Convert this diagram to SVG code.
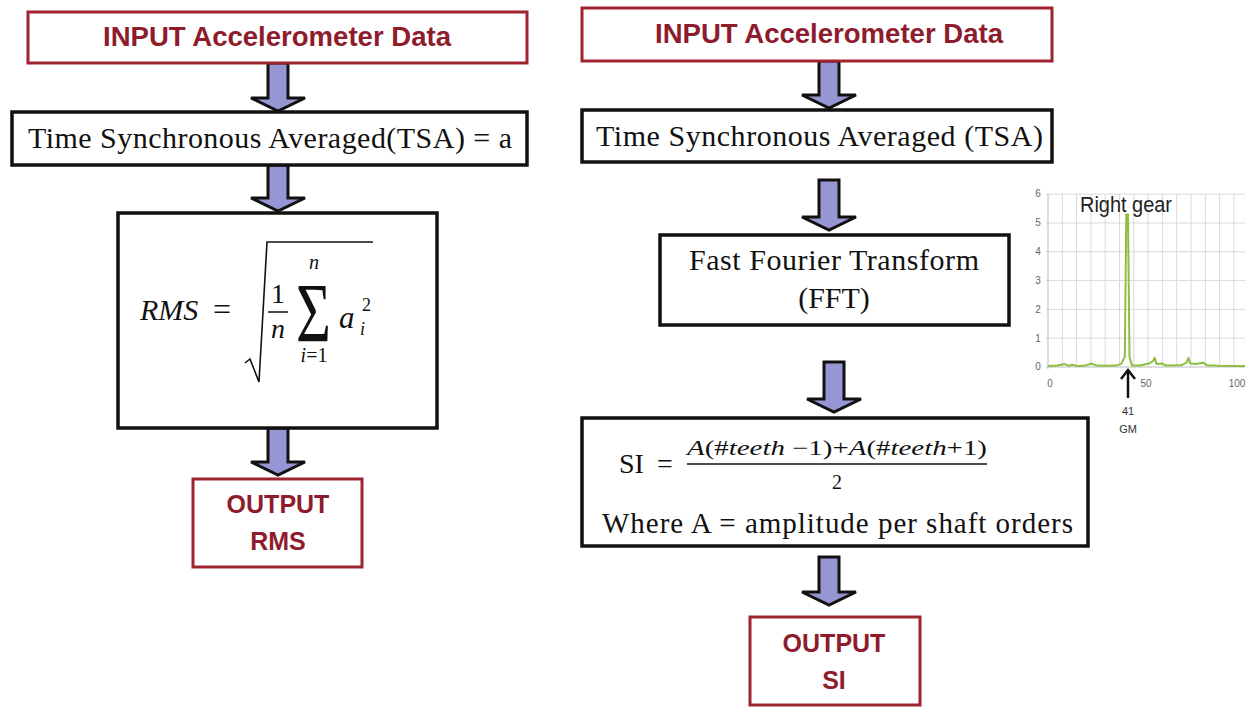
<svg xmlns="http://www.w3.org/2000/svg" width="1248" height="708" viewBox="0 0 1248 708">
<style>
.rbox{fill:#fff;stroke:#a0232f;stroke-width:3}
.bbox{fill:#fff;stroke:#111;stroke-width:3.5}
.rt{font-family:"Liberation Sans",Arial,sans-serif;font-weight:bold;fill:#8e1c2c;text-anchor:middle}
.st{font-family:"Liberation Serif","Times New Roman",serif;fill:#111}
.it{font-style:italic}
.arr{fill:#9696d4;stroke:#111;stroke-width:3;stroke-linejoin:miter}
.grid{stroke:#d9d9d9;stroke-width:1}
.ax{font-family:"Liberation Sans",Arial,sans-serif;font-size:10px;fill:#666;text-anchor:middle}
</style>
<rect width="1248" height="708" fill="#fff"/>

<g id="connectors">
<path class="arr" d="M268 63H288V98H305L278 111L251 98H268Z"/>
<path class="arr" d="M268 165H288V198H305L278 211L251 198H268Z"/>
<path class="arr" d="M268 428H288V462H305L278 475L251 462H268Z"/>
<path class="arr" d="M819 61H839V95H856L829 108L802 95H819Z"/>
<path class="arr" d="M819 180H839V217H856L829 230L802 217H819Z"/>
<path class="arr" d="M824 362H844V399H861L834 412L807 399H824Z"/>
<path class="arr" d="M819 557H839V592H856L829 605L802 592H819Z"/>
</g>

<g id="left-input">
<rect class="rbox" x="28" y="12" width="499" height="51"/>
<text class="rt" x="277" y="46" font-size="27" textLength="348" lengthAdjust="spacingAndGlyphs">INPUT Accelerometer Data</text>
</g>

<g id="left-tsa">
<rect class="bbox" x="12" y="112" width="515" height="53"/>
<text class="st" x="28" y="148" font-size="30" textLength="484" lengthAdjust="spacing">Time Synchronous Averaged(TSA) = a</text>
</g>

<g id="rms-formula">
<rect class="bbox" x="118" y="213" width="319" height="215"/>
<text class="st it" x="140" y="320" font-size="30">RMS</text>
<text class="st" x="222" y="320" font-size="32" text-anchor="middle">=</text>
<path d="M245 363L250 359L259 382L267 242H373" fill="none" stroke="#111" stroke-width="1.6"/>
<text class="st" x="278" y="303" font-size="28" text-anchor="middle">1</text>
<line x1="268" y1="312" x2="288" y2="312" stroke="#111" stroke-width="1.5"/>
<text class="st it" x="278" y="338" font-size="28" text-anchor="middle">n</text>
<text class="st" x="296" y="244.3" font-size="60" transform="scale(1,1.4)">Σ</text>
<text class="st it" x="314" y="269" font-size="20" text-anchor="middle">n</text>
<text class="st" x="314" y="362" font-size="20" text-anchor="middle"><tspan font-style="italic">i</tspan>=1</text>
<text class="st it" x="339" y="328" font-size="31">a</text>
<text class="st" x="362" y="311" font-size="18">2</text>
<text class="st it" x="360" y="335" font-size="18">i</text>
</g>

<g id="output-rms">
<rect class="rbox" x="193" y="479" width="169" height="88"/>
<text class="rt" x="278" y="513" font-size="25">OUTPUT</text>
<text class="rt" x="278" y="550" font-size="25">RMS</text>
</g>

<g id="right-input">
<rect class="rbox" x="582" y="8" width="470" height="53"/>
<text class="rt" x="829" y="43" font-size="27" textLength="348" lengthAdjust="spacingAndGlyphs">INPUT Accelerometer Data</text>
</g>

<g id="right-tsa">
<rect class="bbox" x="582" y="110" width="470" height="52"/>
<text class="st" x="596" y="146" font-size="30" textLength="447" lengthAdjust="spacing">Time Synchronous Averaged (TSA)</text>
</g>

<g id="fft">
<rect class="bbox" x="660" y="235" width="349" height="90"/>
<text class="st" x="834" y="270" font-size="30" text-anchor="middle" textLength="290" lengthAdjust="spacing">Fast Fourier Transform</text>
<text class="st" x="834" y="308" font-size="30" text-anchor="middle">(FFT)</text>
</g>

<g id="si-formula">
<rect class="bbox" x="582" y="418" width="506" height="128"/>
<text class="st" x="619" y="473" font-size="28">SI</text>
<text class="st" x="665" y="473" font-size="28" text-anchor="middle">=</text>
<text class="st" x="687" y="455" font-size="21" textLength="300" lengthAdjust="spacingAndGlyphs"><tspan font-style="italic">A</tspan>(#<tspan font-style="italic">teeth</tspan> −1)+<tspan font-style="italic">A</tspan>(#<tspan font-style="italic">teeth</tspan>+1)</text>
<line x1="687" y1="464" x2="987" y2="464" stroke="#111" stroke-width="1.3"/>
<text class="st" x="837" y="489" font-size="20" text-anchor="middle">2</text>
<text class="st" x="602" y="533" font-size="29" textLength="471" lengthAdjust="spacing">Where A = amplitude per shaft orders</text>
</g>

<g id="output-si">
<rect class="rbox" x="750" y="617" width="170" height="88"/>
<text class="rt" x="834" y="652" font-size="25">OUTPUT</text>
<text class="rt" x="834" y="689" font-size="25">SI</text>
</g>

<g id="chart">
<g class="grid">
<line x1="1046" y1="367" x2="1245" y2="367" stroke="#bbb"/>
<line x1="1046" y1="338.2" x2="1245" y2="338.2"/>
<line x1="1046" y1="309.4" x2="1245" y2="309.4"/>
<line x1="1046" y1="280.6" x2="1245" y2="280.6"/>
<line x1="1046" y1="251.8" x2="1245" y2="251.8"/>
<line x1="1046" y1="223" x2="1245" y2="223"/>
<line x1="1046" y1="194.2" x2="1245" y2="194.2"/>
<line x1="1048" y1="194" x2="1048" y2="369" stroke="#bbb"/>
<line x1="1062.3" y1="194" x2="1062.3" y2="367"/>
<line x1="1076.6" y1="194" x2="1076.6" y2="367"/>
<line x1="1090.9" y1="194" x2="1090.9" y2="367"/>
<line x1="1105.2" y1="194" x2="1105.2" y2="367"/>
<line x1="1119.5" y1="194" x2="1119.5" y2="367"/>
<line x1="1133.8" y1="194" x2="1133.8" y2="367"/>
<line x1="1148.1" y1="194" x2="1148.1" y2="367"/>
<line x1="1162.4" y1="194" x2="1162.4" y2="367"/>
<line x1="1176.7" y1="194" x2="1176.7" y2="367"/>
<line x1="1191" y1="194" x2="1191" y2="367"/>
<line x1="1205.3" y1="194" x2="1205.3" y2="367"/>
<line x1="1219.6" y1="194" x2="1219.6" y2="367"/>
<line x1="1233.9" y1="194" x2="1233.9" y2="367"/>
</g>
<text class="ax" x="1038" y="197">6</text>
<text class="ax" x="1038" y="226">5</text>
<text class="ax" x="1038" y="255">4</text>
<text class="ax" x="1038" y="284">3</text>
<text class="ax" x="1038" y="313">2</text>
<text class="ax" x="1038" y="342">1</text>
<text class="ax" x="1038" y="370">0</text>
<text class="ax" x="1050" y="387">0</text>
<text class="ax" x="1146" y="387">50</text>
<text class="ax" x="1237" y="387">100</text>
<polyline fill="none" stroke="#8cbf3f" stroke-width="2" stroke-linejoin="round" points="1048,366.1 1057.5,365.6 1065,364.1 1068.7,365.8 1072.4,364.7 1078,366.1 1085.5,365.6 1091.1,363.5 1096.8,365.6 1106.1,365.8 1115.5,365.6 1121.1,364.1 1124.8,356.9 1126.3,214.4 1128,214.4 1129.5,356.9 1132,365.6 1139.8,365.6 1149.1,363.5 1152.9,361.2 1154.7,357.8 1156.6,364.1 1162.2,363.5 1166,365.6 1180.9,365.3 1186.5,362.7 1188.4,357.8 1190.3,363.5 1195.9,364.1 1203.3,362.7 1207.1,365.3 1218.3,365.8 1237,366.1 1245,366.1"/>
<text x="1080" y="212" font-family="Liberation Sans,Arial,sans-serif" font-size="22" fill="#222" textLength="92" lengthAdjust="spacingAndGlyphs">Right gear</text>
<line x1="1128" y1="398" x2="1128" y2="371" stroke="#111" stroke-width="2.5"/>
<path d="M1121 379L1128 370L1135 379" fill="none" stroke="#111" stroke-width="2.5"/>
<text x="1128" y="415" font-family="Liberation Sans,Arial,sans-serif" font-size="11" fill="#333" text-anchor="middle">41</text>
<text x="1128" y="433" font-family="Liberation Sans,Arial,sans-serif" font-size="11" fill="#333" text-anchor="middle">GM</text>
</g>
</svg>
